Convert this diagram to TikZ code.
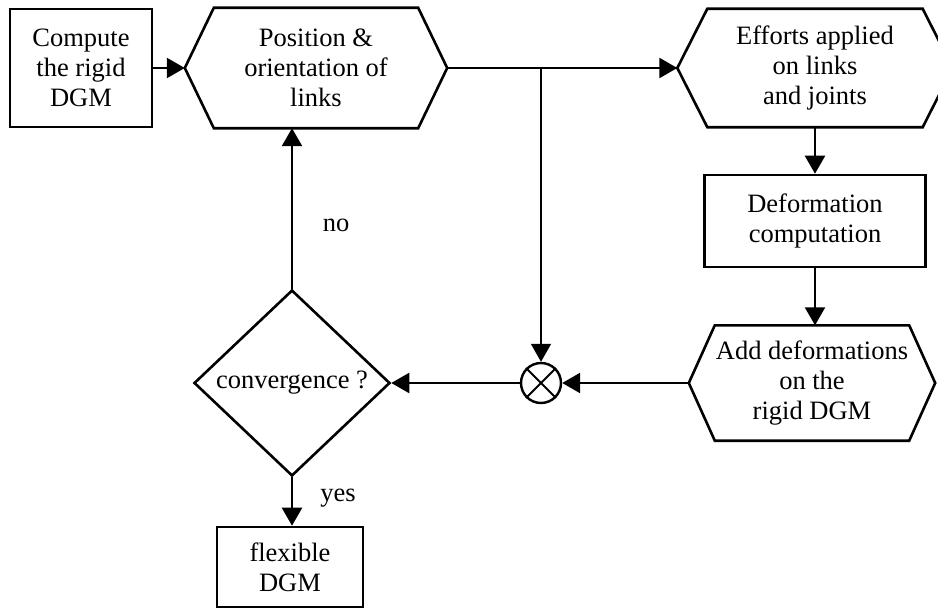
\documentclass[tikz,border=0pt]{standalone}
\usepackage{fontspec}
\setmainfont{Liberation Serif}
\usetikzlibrary{arrows.meta,calc,shapes.geometric}
\begin{document}
\begin{tikzpicture}[x=1pt,y=-1pt,
  every node/.style={font=\fontsize{26.5}{30}\selectfont, align=center},
  box/.style={draw, line width=2.6pt, inner sep=0pt},
  hexcore/.style={inner sep=0pt},
  hexline/.style={line width=2.6pt},
  flow/.style={line width=2.4pt, -{Triangle[length=18pt,width=20pt]}},
  tap/.style={line width=1.6pt, -{Triangle[length=18pt,width=20pt]}},
]
\useasboundingbox (0,0) rectangle (938,610);
\clip (0,0) rectangle (938,610);

% rectangular steps
\node[box, minimum width=142pt, minimum height=118pt] (comp) at (81,68) {Compute\\the rigid\\DGM};
\node[box, minimum width=221pt, minimum height=92pt] (def) at (815,221) {Deformation\\computation};
\node[box, minimum width=146pt, minimum height=80pt] (flex) at (290,567) {flexible\\DGM};

% hexagonal steps: text core plus pointed outline
\node[hexcore, minimum width=204pt, minimum height=120pt] (pos) at (316,68) {Position \&\\orientation of\\links};
\draw[hexline] (pos.north west) -- (pos.north east) -- ($(pos.east)+(29,0)$) coordinate (pos-e)
  -- (pos.south east) -- (pos.south west) -- ($(pos.west)+(-29,0)$) coordinate (pos-w) -- cycle;

\node[hexcore, minimum width=215pt, minimum height=118pt] (eff) at (815,68) {Efforts applied\\on links\\and joints};
\draw[hexline] (eff.north west) -- (eff.north east) -- ($(eff.east)+(30,0)$) coordinate (eff-e)
  -- (eff.south east) -- (eff.south west) -- ($(eff.west)+(-30,0)$) coordinate (eff-w) -- cycle;

\node[hexcore, minimum width=194pt, minimum height=115pt] (add) at (812,383) {Add deformations\\on the\\rigid DGM};
\draw[hexline] (add.north west) -- (add.north east) -- ($(add.east)+(26,0)$) coordinate (add-e)
  -- (add.south east) -- (add.south west) -- ($(add.west)+(-26,0)$) coordinate (add-w) -- cycle;

% summing junction
\node[circle, draw, line width=2.4pt, minimum size=40pt, inner sep=0pt] (sum) at (541,383) {};
\draw[line width=2pt] (sum.north west) -- (sum.south east) (sum.north east) -- (sum.south west);

% decision
\node[diamond, draw, line width=2.6pt, inner sep=0pt, minimum width=196pt, minimum height=186pt] (conv) at (292,383) {convergence ?};

% branch labels
\node (no) at (336,225) {no};
\node (yes) at (338,498) {yes};

% connectors
\draw[flow] (comp.east) -- (pos-w);
\draw[flow] (pos-e) -- (eff-w);
\draw[tap] (sum.north |- pos-e) -- (sum.north);
\draw[flow] (eff.south) -- (eff.south |- def.north);
\draw[flow] (def.south) -- (def.south |- add.north);
\draw[flow] (add-w) -- (sum.east);
\draw[flow] (sum.west) -- (conv.east);
\draw[flow] (conv.north) -- (conv.north |- pos.south);
\draw[flow] (conv.south) -- (conv.south |- flex.north);
\end{tikzpicture}
\end{document}
